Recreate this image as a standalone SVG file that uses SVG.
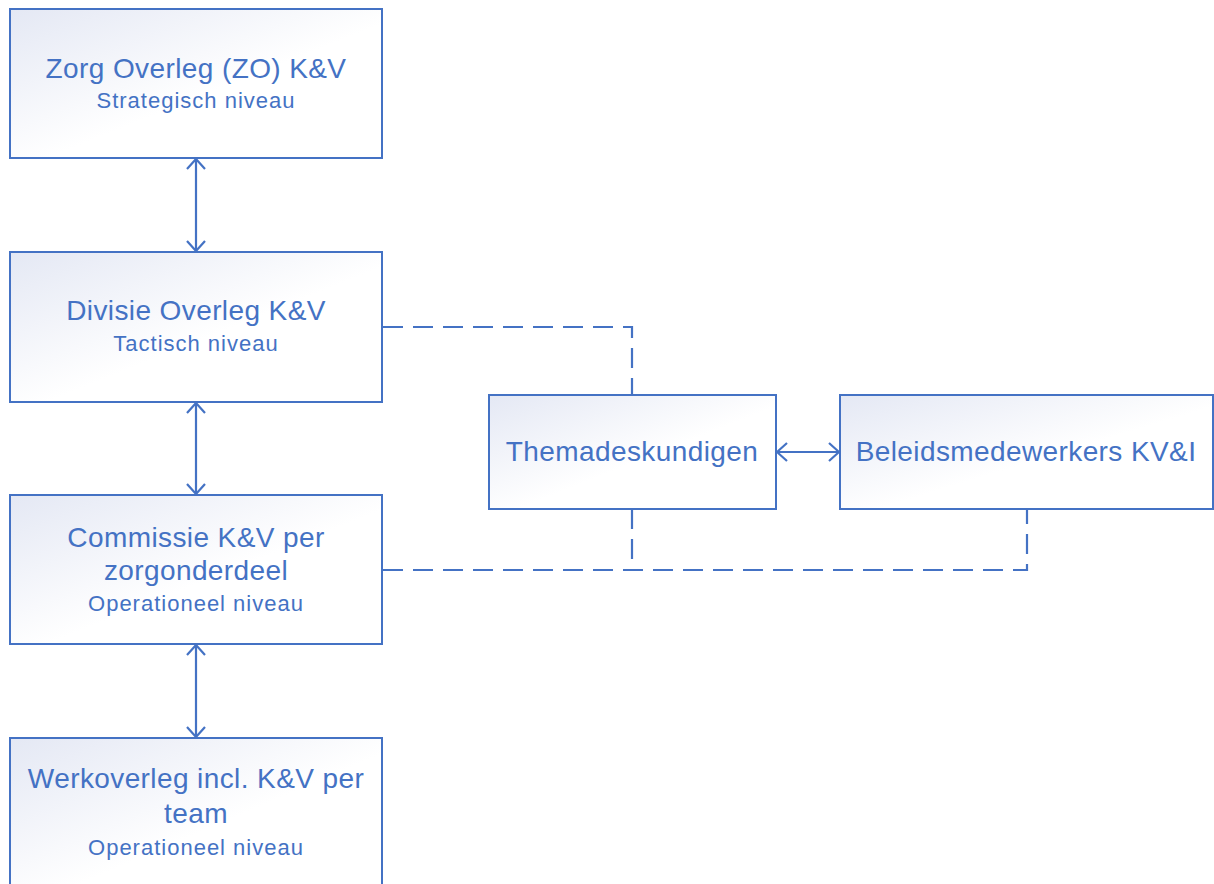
<svg xmlns="http://www.w3.org/2000/svg" width="1214" height="884" viewBox="0 0 1214 884">
<defs>
<linearGradient id="g" x1="0" y1="0" x2="1" y2="1">
<stop offset="0" stop-color="#e4e8f4"/>
<stop offset="0.55" stop-color="#ffffff"/>
<stop offset="1" stop-color="#ffffff"/>
</linearGradient>
<marker id="a" viewBox="0 0 12 20" refX="11" refY="10" markerWidth="12" markerHeight="20" markerUnits="userSpaceOnUse" orient="auto-start-reverse">
<path d="M1,1 L11,10 L1,19" fill="none" stroke="#4472c4" stroke-width="2.2"/>
</marker>
</defs>
<style>
.box{fill:url(#g);stroke:#4472c4;stroke-width:2}
.t{font-family:"Liberation Sans",Arial,sans-serif;fill:#4472c4;text-anchor:middle}
.h{font-size:28px;letter-spacing:0.4px}
.s{font-size:22px;letter-spacing:1px}
.c{stroke:#4472c4;stroke-width:2.2;fill:none}
.d{stroke-dasharray:20,10}
</style>
<rect width="1214" height="884" fill="#ffffff"/>
<g id="connectors">
<line class="c" x1="196" y1="159" x2="196" y2="251" marker-start="url(#a)" marker-end="url(#a)"/>
<line class="c" x1="196" y1="403" x2="196" y2="494" marker-start="url(#a)" marker-end="url(#a)"/>
<line class="c" x1="196" y1="645" x2="196" y2="737" marker-start="url(#a)" marker-end="url(#a)"/>
<line class="c" x1="777" y1="452" x2="839" y2="452" marker-start="url(#a)" marker-end="url(#a)"/>
<path class="c d" d="M383,327 H632 V395"/>
<path class="c d" d="M632,509 V570"/>
<path class="c d" d="M383,570 H1027 V509"/>
</g>
<g id="zo">
<rect class="box" x="10" y="9" width="372" height="149"/>
<text class="t h" x="196" y="78">Zorg Overleg (ZO) K&amp;V</text>
<text class="t s" x="196" y="108">Strategisch niveau</text>
</g>
<g id="divisie">
<rect class="box" x="10" y="252" width="372" height="150"/>
<text class="t h" x="196" y="320">Divisie Overleg K&amp;V</text>
<text class="t s" x="196" y="351">Tactisch niveau</text>
</g>
<g id="commissie">
<rect class="box" x="10" y="495" width="372" height="149"/>
<text class="t h" x="196" y="547">Commissie K&amp;V per</text>
<text class="t h" x="196" y="580">zorgonderdeel</text>
<text class="t s" x="196" y="611">Operationeel niveau</text>
</g>
<g id="werkoverleg">
<rect class="box" x="10" y="738" width="372" height="160"/>
<text class="t h" x="196" y="788">Werkoverleg incl. K&amp;V per</text>
<text class="t h" x="196" y="823">team</text>
<text class="t s" x="196" y="855">Operationeel niveau</text>
</g>
<g id="themadeskundigen">
<rect class="box" x="489" y="395" width="287" height="114"/>
<text class="t h" x="632" y="461">Themadeskundigen</text>
</g>
<g id="beleidsmedewerkers">
<rect class="box" x="840" y="395" width="373" height="114"/>
<text class="t h" x="1026" y="461">Beleidsmedewerkers KV&amp;I</text>
</g>
</svg>
